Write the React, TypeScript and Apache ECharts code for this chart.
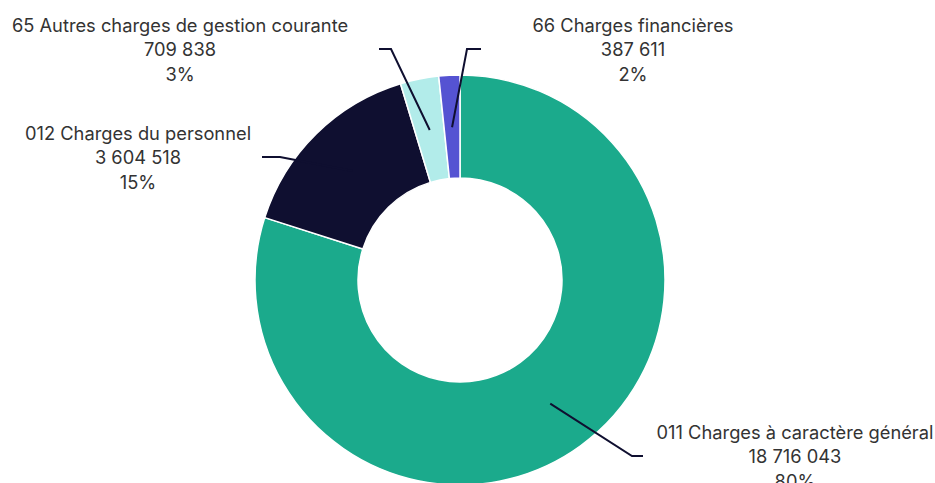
import React, { useEffect, useRef } from "react";
import * as echarts from "echarts";

// ---- data ----
const categories = [
  "011 Charges à caractère général",
  "012 Charges du personnel",
  "65 Autres charges de gestion courante",
  "66 Charges financières",
];
const values = [18716043, 3604518, 709838, 387611];
const colors = ["#1BAA8C", "#0F0F30", "#B2ECEA", "#5553D2"];

// ---- layout (pixels) ----
const CENTER = [460, 280];
const RADIUS = [102, 205];
const LINE_START_RADIUS = 153;
const labelElbows = [
  [632, 456],
  [280, 157],
  [391, 49],
  [467, 49],
];
const labelLineEnds = [643, 262, 379, 481];
const labelCenters = [795, 138, 180, 633];

function fmt(v: number): string {
  return String(Math.round(v)).replace(/\B(?=(\d{3})+(?!\d))/g, " ");
}

export default function App() {
  const ref = useRef<HTMLDivElement>(null);
  useEffect(() => {
    if (!ref.current) return;
    const chart = echarts.init(ref.current, undefined, { renderer: "svg" });
    const total = values.reduce((a, b) => a + b, 0);
    const data = categories.map((name, i) => ({
      name,
      value: values[i],
      itemStyle: { color: colors[i] },
    }));
    chart.setOption({
      animation: false,
      backgroundColor: "#ffffff",
      series: [
        {
          type: "pie",
          center: CENTER,
          radius: RADIUS,
          startAngle: 90,
          clockwise: true,
          silent: true,
          itemStyle: { borderColor: "#ffffff", borderWidth: 1.5 },
          label: { show: false },
          labelLine: { show: false },
          data,
        },
        {
          // transparent overlay that carries labels and leader lines
          type: "pie",
          z: 5,
          center: CENTER,
          radius: [0, LINE_START_RADIUS],
          startAngle: 90,
          clockwise: true,
          avoidLabelOverlap: false,
          silent: true,
          itemStyle: { color: "rgba(0,0,0,0)", borderWidth: 0 },
          label: {
            show: true,
            position: "outside",
            overflow: "none",
            fontFamily: "Inter",
            fontSize: 18.3,
            lineHeight: 24.5,
            color: "#333333",
            formatter: (p: any) =>
              `${p.name}\n${fmt(p.value)}\n${Math.round(p.percent)}%`,
          },
          labelLine: {
            show: true,
            length: 20,
            length2: 10,
            lineStyle: { color: "#0F0F30", width: 2 },
          },
          labelLayout: (params: any) => {
            const i = params.dataIndex;
            let before = 0;
            for (let j = 0; j < i; j++) before += values[j];
            const mid = ((before + values[i] / 2) / total) * Math.PI * 2;
            const ax = CENTER[0] + LINE_START_RADIUS * Math.sin(mid);
            const ay = CENTER[1] - LINE_START_RADIUS * Math.cos(mid);
            const [ex, ey] = labelElbows[i];
            return {
              x: labelCenters[i],
              y: ey,
              align: "center",
              verticalAlign: "middle",
              labelLinePoints: [
                [ax, ay],
                [ex, ey],
                [labelLineEnds[i], ey],
              ],
            };
          },
          data: categories.map((name, i) => ({
            name,
            value: values[i],
            itemStyle: { color: "rgba(0,0,0,0)" },
          })),
        },
      ],
    });
    return () => chart.dispose();
  }, []);
  return (
    <div
      ref={ref}
      style={{ position: "absolute", left: 0, top: 0, width: 935, height: 483 }}
    />
  );
}
